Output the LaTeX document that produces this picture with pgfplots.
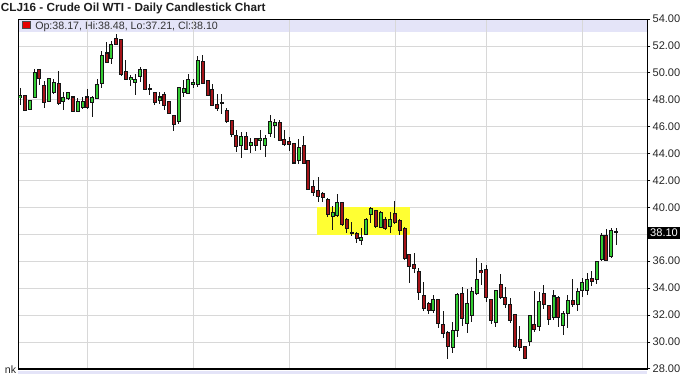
\documentclass[border=0pt]{standalone}
\usepackage{pgfplots}
\pgfplotsset{compat=1.18}
\usepackage{pgfplotstable}
\usepackage{fontspec}
\setmainfont{Liberation Sans}
\definecolor{band}{RGB}{228,228,248}
\definecolor{upc}{RGB}{51,204,51}
\definecolor{dnc}{RGB}{165,20,25}
\definecolor{gridc}{RGB}{216,216,216}
\definecolor{hl}{RGB}{255,255,51}
\definecolor{wick}{RGB}{20,20,20}

\pgfplotstableread{
i o h l c
0 48.15 48.90 47.60 48.30
2 47.26 47.95 47.26 47.95
3 48.15 50.30 48.15 50.00
6 47.90 49.56 47.80 49.56
7 48.57 49.56 48.45 49.26
9 47.90 48.57 47.20 48.15
10 48.08 48.57 47.95 48.57
12 47.16 48.15 47.10 47.83
13 47.46 48.20 47.34 47.90
15 47.83 48.25 46.70 48.15
16 48.08 49.56 48.08 49.14
17 49.24 51.60 48.90 51.29
19 51.05 52.40 50.67 52.10
23 49.50 49.85 49.00 49.65
24 49.30 49.90 48.35 49.50
25 49.73 50.43 49.31 50.25
29 47.95 48.57 47.70 48.20
33 46.35 48.90 46.17 48.90
34 48.57 49.44 48.20 48.82
35 48.45 49.88 48.45 49.49
36 49.12 49.56 48.90 49.30
37 49.14 51.22 48.94 50.92
46 44.62 45.60 43.70 45.28
48 44.62 45.18 44.05 44.80
50 45.00 45.73 44.25 45.15
51 44.62 45.36 43.75 45.10
52 45.48 46.84 45.24 46.35
53 46.10 46.60 45.18 46.27
58 43.45 45.10 43.26 44.44
65 39.30 40.10 38.30 39.65
66 39.42 40.98 39.30 40.34
71 37.57 38.44 37.20 37.77
72 38.02 39.18 37.94 39.10
73 39.50 40.04 38.85 39.92
75 38.51 39.75 38.44 39.60
77 38.60 39.67 38.11 39.10
86 32.33 33.49 32.18 33.12
90 29.60 31.51 29.16 30.84
91 30.84 33.66 30.35 33.49
93 31.34 33.91 30.64 32.87
94 31.93 34.10 31.51 33.74
95 33.61 36.21 33.49 34.65
99 31.44 33.86 31.09 33.81
106 30.03 32.00 29.70 31.93
108 31.14 33.70 30.80 32.99
111 31.83 33.86 31.63 33.41
113 31.19 32.33 30.52 32.13
114 32.13 33.49 31.02 33.07
116 32.75 33.98 32.33 33.74
117 33.81 34.72 33.32 34.40
118 33.86 35.10 33.49 34.65
120 34.65 35.96 34.30 35.96
121 36.13 38.11 36.04 37.87
123 36.38 38.43 36.21 38.26
}\up

\pgfplotstableread{
i o h l c
1 48.30 48.30 47.20 47.20
4 50.23 50.30 49.10 49.60
5 49.07 49.40 47.40 47.76
8 49.20 50.10 47.60 47.70
11 48.20 48.25 47.16 47.16
14 48.20 48.82 47.34 47.40
18 51.47 52.28 50.75 50.75
20 52.53 52.90 52.05 52.13
21 52.46 52.50 49.80 49.86
22 50.13 50.97 49.45 49.49
26 50.25 50.25 48.75 48.75
27 48.85 49.20 48.35 48.80
28 48.52 48.52 47.58 47.76
30 48.40 48.57 47.20 47.58
31 47.90 47.90 47.00 47.00
32 46.84 46.84 45.68 46.17
38 50.87 51.30 49.19 49.19
39 49.39 49.39 48.33 48.33
40 48.75 49.19 47.60 47.60
41 47.66 48.45 47.16 47.34
42 47.76 48.45 46.96 47.72
43 47.21 47.40 46.27 46.35
44 46.42 46.42 45.20 45.40
45 45.36 45.78 44.12 44.49
47 45.28 45.60 44.30 44.30
49 45.10 45.18 44.20 44.62
54 46.27 46.47 44.94 44.94
55 45.04 45.73 44.54 44.69
56 44.86 45.23 44.20 44.69
57 44.74 44.74 43.26 43.30
59 44.62 45.28 43.26 43.26
60 43.50 43.50 41.33 41.33
61 41.52 42.02 40.83 41.08
62 41.23 42.22 40.41 40.83
63 41.03 41.15 40.41 40.73
64 40.58 40.66 39.25 39.50
67 40.34 40.34 38.60 38.76
68 39.10 39.18 38.11 38.44
69 38.15 38.93 37.87 38.11
70 38.06 38.19 37.32 37.69
74 39.80 39.84 38.44 38.56
76 39.10 39.25 38.31 38.44
78 39.55 40.49 38.80 38.85
79 39.00 39.10 37.94 38.26
80 38.44 38.51 36.09 36.21
81 36.46 36.46 34.40 35.59
82 35.72 36.63 35.15 35.47
83 35.22 35.47 33.12 33.66
84 33.42 34.48 32.33 32.50
85 32.87 32.99 32.08 32.33
87 33.17 33.17 31.02 31.34
88 31.26 32.33 30.27 30.64
89 30.69 30.84 28.72 29.66
92 33.56 34.10 31.19 31.76
96 35.29 35.89 34.23 35.17
97 35.39 35.71 33.00 33.32
98 33.12 33.12 31.34 31.58
100 34.30 35.05 33.17 33.32
101 33.32 34.10 32.50 32.75
102 32.75 33.24 31.44 31.58
103 32.00 32.00 29.53 29.66
104 30.20 31.19 29.36 29.60
105 29.66 29.66 28.72 28.79
107 31.26 33.81 30.77 30.94
109 33.56 34.23 32.42 32.82
110 32.67 32.67 31.26 31.68
112 33.32 33.41 31.14 31.83
115 33.07 34.65 32.57 32.75
119 34.72 35.29 34.15 34.48
122 37.94 38.36 36.04 36.09
124 38.17 38.48 37.21 38.10
}\dn

\begin{document}
\begin{tikzpicture}[x=1pt,y=1pt]
\useasboundingbox (0,0) rectangle (511.5,280.5);
% title
\node[anchor=base west, inner sep=0, font=\bfseries\fontsize{8.8}{10}\selectfont, text={rgb,255:red,30;green,30;blue,30}] at (0.5,271.6) {CLJ16 - Crude Oil WTI - Daily Candlestick Chart};
% legend band
\fill[band] (13.5,256.4) rectangle (485.25,266.25);
\fill[band] (13.5,0) rectangle (485.25,2.4);
\filldraw[fill={rgb,255:red,230;green,0;blue,0}, draw=black!70, line width=0.5pt] (16.6,258.9) rectangle (22.4,264.7);
\node[anchor=base west, inner sep=0, font=\fontsize{8}{9.6}\selectfont, text=black!80] at (26.25,258.6) {Op:38.17, Hi:38.48, Lo:37.21, Cl:38.10};
\node[anchor=base east, inner sep=0, font=\fontsize{8}{9.6}\selectfont, text=black!85] at (12.3,0.6) {nk};

\begin{axis}[
  at={(13.5pt,3.375pt)}, anchor=south west,
  scale only axis, width=471.75pt, height=262.875pt,
  xmin=-0.45, xmax=130.45, ymin=27.95, ymax=54,
  xtick={14,36,56,78,97,117}, xticklabels={},
  major x tick style={draw=none},
  ytick={28,30,32,34,36,38,40,42,44,46,48,50,52,54},
  yticklabels={28.00,30.00,32.00,34.00,36.00,{},40.00,42.00,44.00,46.00,48.00,50.00,52.00,54.00},
  ytick pos=right, yticklabel pos=right,
  tick align=outside, major tick length=2.5pt,
  major y tick style={black, line width=0.6pt},
  ymajorgrids, xmajorgrids,
  grid style={gridc, line width=0.6pt},
  axis line style={black, line width=0.6pt},
  yticklabel style={font=\fontsize{8.3}{10}\selectfont, text=black!85, inner sep=1.5pt},
  clip=false,
]
\fill[hl] (axis cs:61.8,37.95) rectangle (axis cs:81.2,40.0);
% wicks
\addplot[draw=none, forget plot, error bars/.cd, y dir=both, y explicit, error mark=none,
  error bar style={draw=wick, line width=0.75pt}]
  table[x=i, y expr={(\thisrow{h}+\thisrow{l})/2}, y error expr={(\thisrow{h}-\thisrow{l})/2}] \up;
\addplot[draw=none, forget plot, error bars/.cd, y dir=both, y explicit, error mark=none,
  error bar style={draw=wick, line width=0.75pt}]
  table[x=i, y expr={(\thisrow{h}+\thisrow{l})/2}, y error expr={(\thisrow{h}-\thisrow{l})/2}] \dn;
% body outlines
\addplot[draw=none, forget plot, error bars/.cd, y dir=both, y explicit, error mark=none,
  error bar style={draw=wick, line width=3pt}]
  table[x=i, y expr={(\thisrow{o}+\thisrow{c})/2}, y error expr={abs(\thisrow{c}-\thisrow{o})/2+0.04}] \up;
\addplot[draw=none, forget plot, error bars/.cd, y dir=both, y explicit, error mark=none,
  error bar style={draw=wick, line width=3pt}]
  table[x=i, y expr={(\thisrow{o}+\thisrow{c})/2}, y error expr={abs(\thisrow{c}-\thisrow{o})/2+0.04}] \dn;
% body fills
\addplot[draw=none, forget plot, error bars/.cd, y dir=both, y explicit, error mark=none,
  error bar style={draw=upc, line width=1.5pt}]
  table[x=i, y expr={(\thisrow{o}+\thisrow{c})/2}, y error expr={max(abs(\thisrow{c}-\thisrow{o})/2-0.035,0)}] \up;
\addplot[draw=none, forget plot, error bars/.cd, y dir=both, y explicit, error mark=none,
  error bar style={draw=dnc, line width=1.5pt}]
  table[x=i, y expr={(\thisrow{o}+\thisrow{c})/2}, y error expr={max(abs(\thisrow{c}-\thisrow{o})/2-0.035,0)}] \dn;
\draw[black, line width=1.5pt] (rel axis cs:0,0) -- (rel axis cs:1,0);
\coordinate (cp) at (axis cs:130.45,38.10);
\end{axis}
\node[fill=black, text=white, anchor=west, inner sep=1.3pt, font=\fontsize{8.3}{10}\selectfont] at ([xshift=0.9pt]cp) {38.10};
\end{tikzpicture}
\end{document}
